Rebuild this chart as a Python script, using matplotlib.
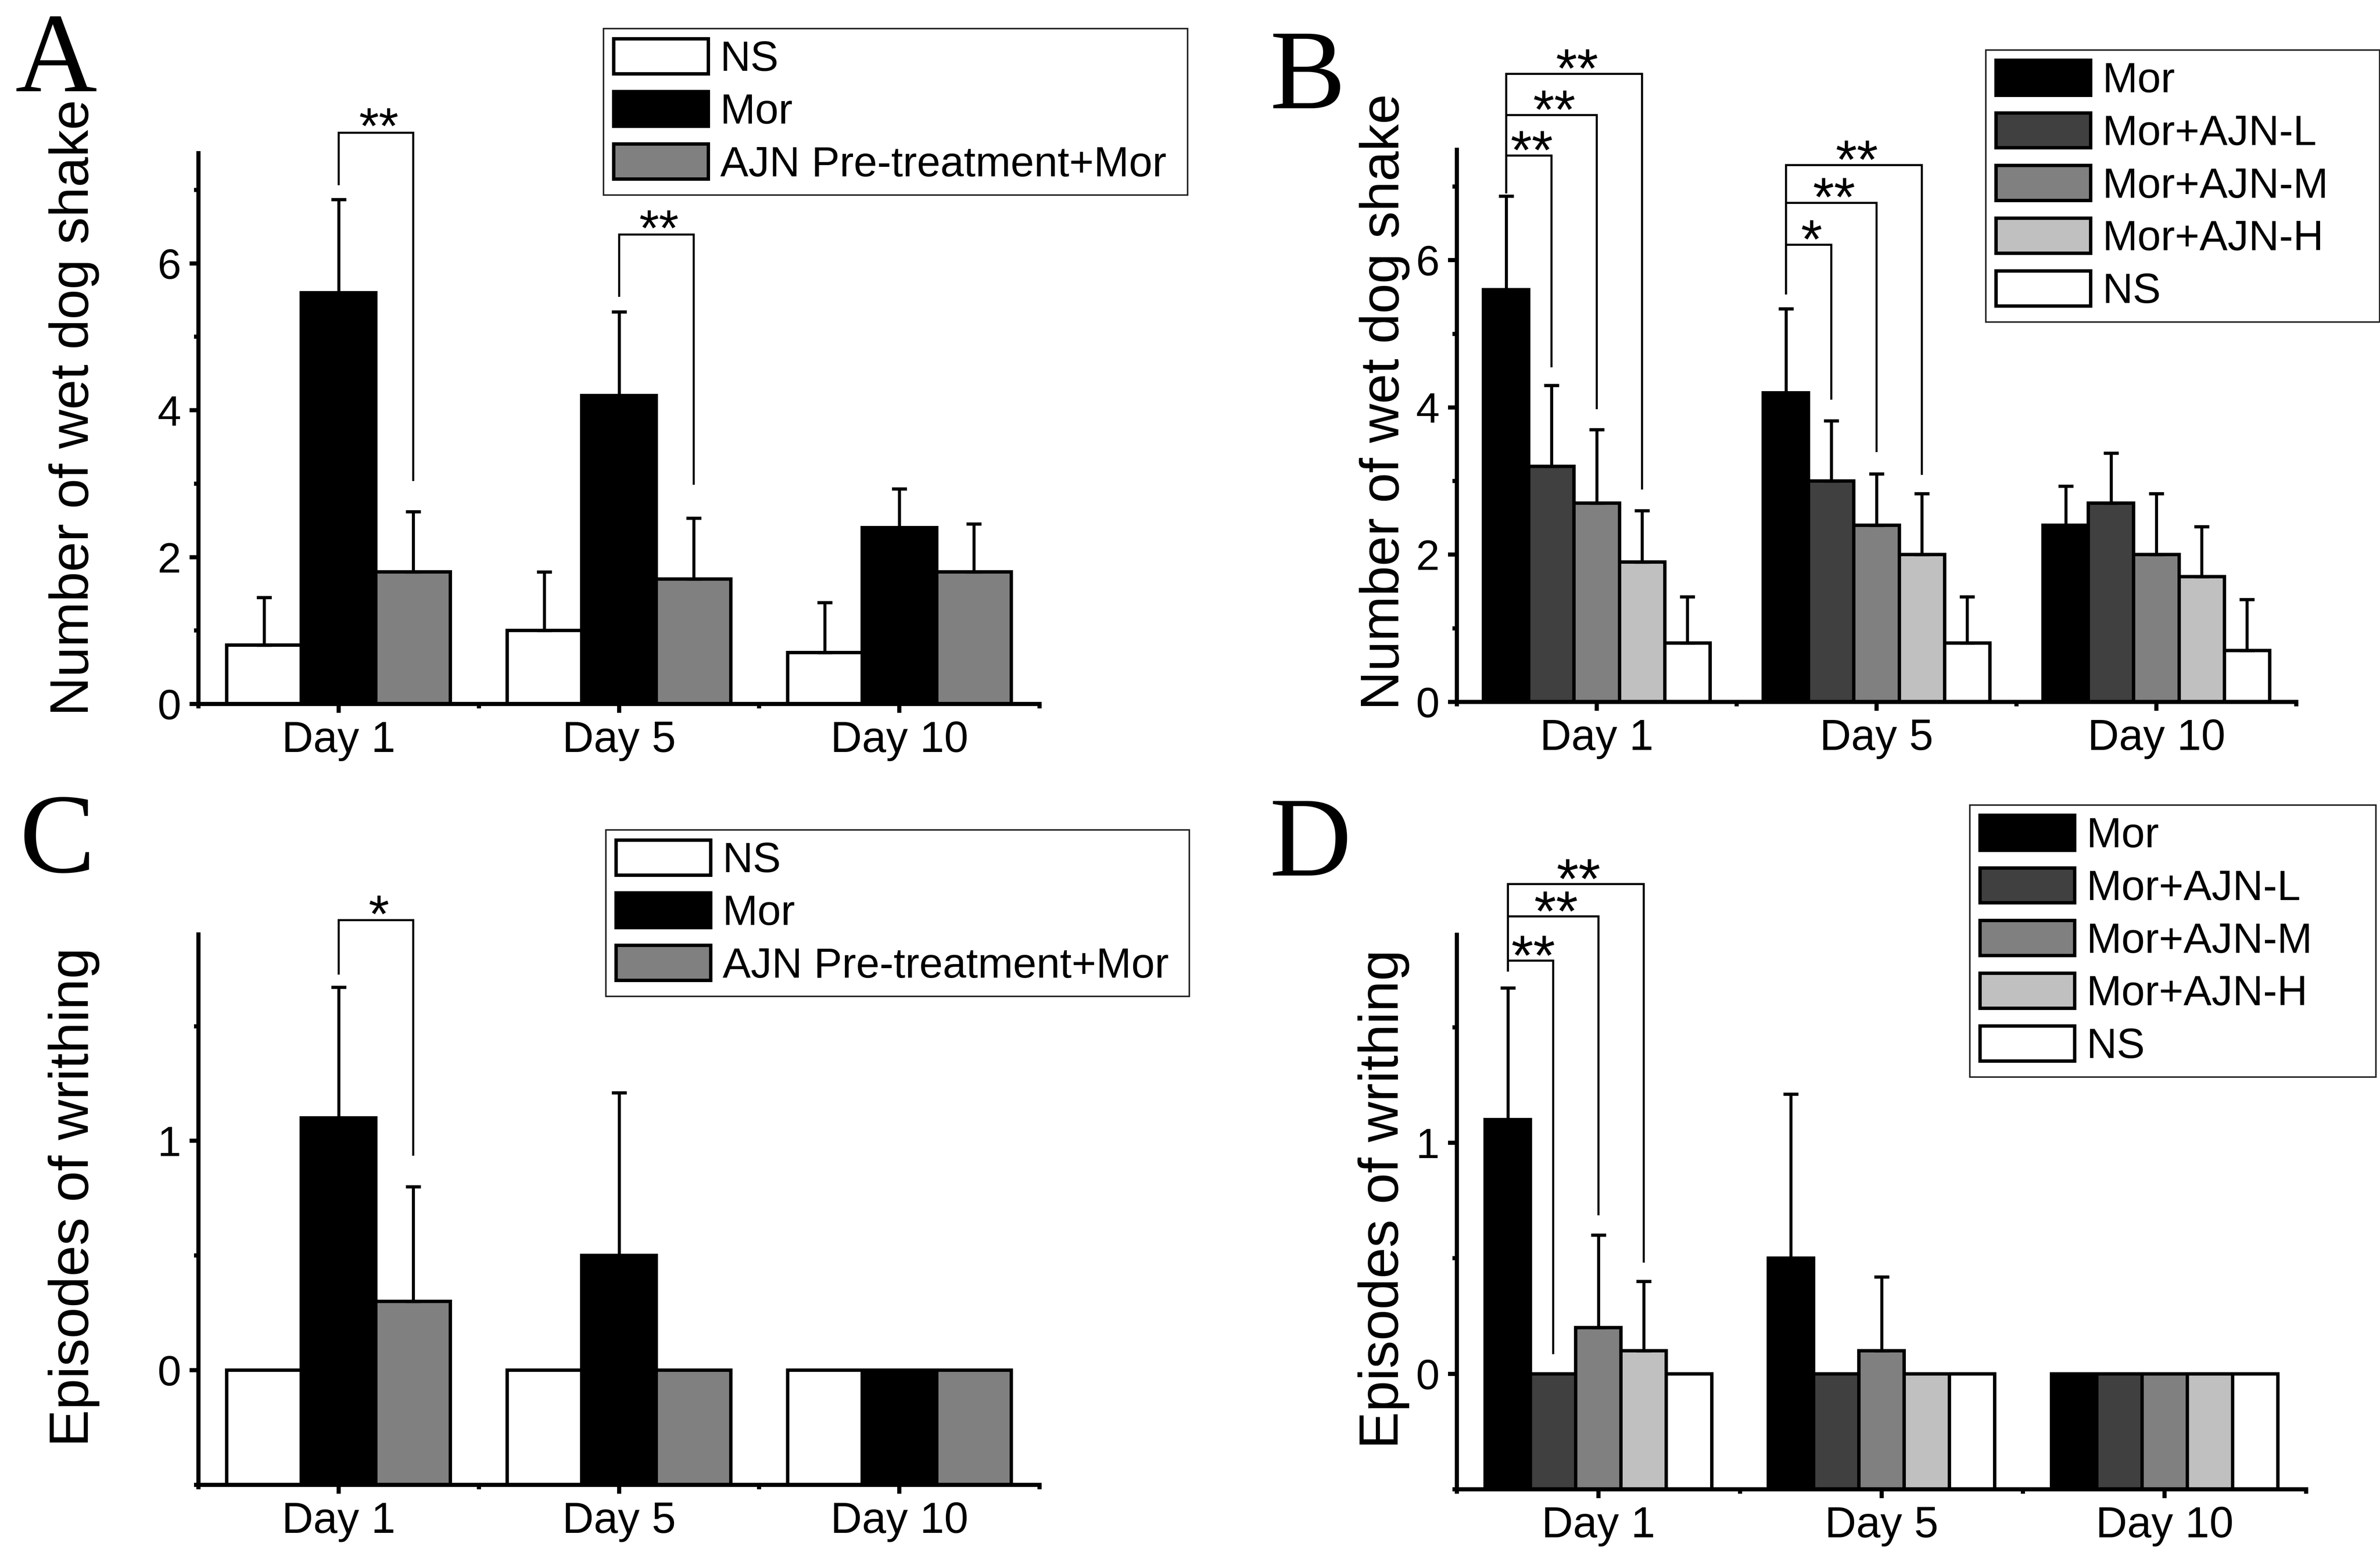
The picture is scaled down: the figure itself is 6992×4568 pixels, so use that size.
import matplotlib
matplotlib.use('Agg')
import matplotlib.pyplot as plt
import numpy as np
from matplotlib.ticker import FixedLocator

plt.rcParams['font.family'] = ['Liberation Sans', 'DejaVu Sans']

days = ['Day 1', 'Day 5', 'Day 10']

# ---------------- Panel A: wet dog shake (pre-treatment) ----------------
a_labels = ['NS', 'Mor', 'AJN Pre-treatment+Mor']
a_ns = [0.8, 1.0, 0.7]
a_ns_err = [0.65, 0.8, 0.68]
a_mor = [5.6, 4.2, 2.4]
a_mor_err = [1.27, 1.14, 0.53]
a_ajn = [1.8, 1.7, 1.8]
a_ajn_err = [0.82, 0.83, 0.65]

# ---------------- Panel B: wet dog shake (doses) ----------------
b_labels = ['Mor', 'Mor+AJN-L', 'Mor+AJN-M', 'Mor+AJN-H', 'NS']
b_mor = [5.6, 4.2, 2.4]
b_mor_err = [1.27, 1.14, 0.53]
b_l = [3.2, 3.0, 2.7]
b_l_err = [1.1, 0.82, 0.68]
b_m = [2.7, 2.4, 2.0]
b_m_err = [1.0, 0.7, 0.83]
b_h = [1.9, 2.0, 1.7]
b_h_err = [0.7, 0.83, 0.68]
b_ns = [0.8, 0.8, 0.7]
b_ns_err = [0.63, 0.63, 0.69]

# ---------------- Panel C: writhing (pre-treatment) ----------------
c_labels = ['NS', 'Mor', 'AJN Pre-treatment+Mor']
c_ns = [0.0, 0.0, 0.0]
c_ns_err = [0.0, 0.0, 0.0]
c_mor = [1.1, 0.5, 0.0]
c_mor_err = [0.57, 0.71, 0.0]
c_ajn = [0.3, 0.0, 0.0]
c_ajn_err = [0.5, 0.0, 0.0]

# ---------------- Panel D: writhing (doses) ----------------
d_labels = ['Mor', 'Mor+AJN-L', 'Mor+AJN-M', 'Mor+AJN-H', 'NS']
d_mor = [1.1, 0.5, 0.0]
d_mor_err = [0.57, 0.71, 0.0]
d_l = [0.0, 0.0, 0.0]
d_l_err = [0.0, 0.0, 0.0]
d_m = [0.2, 0.1, 0.0]
d_m_err = [0.4, 0.32, 0.0]
d_h = [0.1, 0.0, 0.0]
d_h_err = [0.3, 0.0, 0.0]
d_ns = [0.0, 0.0, 0.0]
d_ns_err = [0.0, 0.0, 0.0]

# significance brackets: (day position, series from, series to, label)
a_sig = [(1, 1, 2, '**'), (2, 1, 2, '**')]
b_sig = [(1, 0, 1, '**'), (1, 0, 2, '**'), (1, 0, 3, '**'),
         (2, 0, 1, '*'), (2, 0, 2, '**'), (2, 0, 3, '**')]
c_sig = [(1, 1, 2, '*')]
d_sig = [(1, 0, 1, '**'), (1, 0, 2, '**'), (1, 0, 3, '**')]

# bracket geometry (top, left foot, right foot) in data units
a_sig_geo = [(7.78, 7.08, 3.05), (6.39, 5.56, 3.0)]
b_sig_geo = [(7.42, 6.92, 4.56), (7.97, 6.92, 3.99), (8.53, 6.92, 2.9),
             (6.21, 5.55, 4.12), (6.78, 5.55, 3.41), (7.29, 5.55, 3.1)]
c_sig_geo = [(1.963, 1.73, 0.94)]
d_sig_geo = [(1.788, 1.745, 0.09), (1.98, 1.745, 0.69), (2.12, 1.745, 0.486)]

W, H = 6992, 4568
DPI = 400
fig = plt.figure(figsize=(W / DPI, H / DPI), dpi=DPI)


def px_axes(left, right, top, bottom):
    return fig.add_axes([left / W, (H - bottom) / H, (right - left) / W, (bottom - top) / H])


def draw_panel(ax, series, errs, colors, labels, width, base, ylim,
               yticks, yminor, sigs, geos, star_size, ylabel, ylab_size, ylab_pos, leg_box):
    x = np.arange(1, len(days) + 1)
    n = len(series)
    offs = [(i - (n - 1) / 2) * width for i in range(n)]
    for i in range(n):
        vals = np.array(series[i], dtype=float)
        ax.bar(x + offs[i], vals - base, width, bottom=base, color=colors[i],
               edgecolor='black', linewidth=1.8, label=labels[i], zorder=2)
        e = np.array(errs[i], dtype=float)
        m = e > 0
        if m.any():
            ax.errorbar((x + offs[i])[m], vals[m], yerr=[np.zeros(m.sum()), e[m]],
                        fmt='none', ecolor='black', elinewidth=1.6, capsize=4,
                        capthick=1.7, zorder=3)
    star_off = -(0.58 * star_size - 10.0)
    for (d, i0, i1, lab), (top, yl, yr) in zip(sigs, geos):
        x0 = d + offs[i0]
        x1 = d + offs[i1]
        ax.plot([x0, x0, x1, x1], [yl, top, top, yr], color='black', lw=1.1,
                clip_on=False, zorder=4, solid_joinstyle='miter')
        ax.annotate(lab, xy=((x0 + x1) / 2, top), xytext=(1.5, star_off),
                    textcoords='offset points', ha='center', va='baseline',
                    fontsize=star_size, annotation_clip=False)
    ax.set_xlim(0.5, len(days) + 0.5)
    ax.set_ylim(*ylim)
    ax.set_xticks(x)
    ax.set_xticklabels(days)
    ax.xaxis.set_minor_locator(FixedLocator(np.arange(0.5, len(days) + 1, 1.0)))
    ax.set_yticks(yticks)
    ax.set_yticklabels([str(t) for t in yticks])
    ax.yaxis.set_minor_locator(FixedLocator(yminor))
    for s in ['top', 'right']:
        ax.spines[s].set_visible(False)
    for s in ['left', 'bottom']:
        ax.spines[s].set_linewidth(2.2)
    ax.tick_params(which='major', direction='out', length=4.7, width=2.2)
    ax.tick_params(which='minor', direction='out', length=2.4, width=2.2)
    ax.tick_params(axis='x', which='major', labelsize=23, pad=4)
    ax.tick_params(axis='y', which='major', labelsize=22.5, pad=4.5)
    ax.text(ylab_pos[0], ylab_pos[1], ylabel, transform=ax.transAxes, rotation=90,
            ha='center', va='center', fontsize=ylab_size)
    leg = ax.legend(loc='upper left', bbox_to_anchor=(leg_box[0], leg_box[1], leg_box[2], 0),
                    bbox_transform=fig.transFigure, mode='expand', borderaxespad=0,
                    fontsize=22.3, handlelength=2.25, handleheight=0.9, handletextpad=0.28,
                    borderpad=0.24, labelspacing=0.28, fancybox=False, framealpha=1,
                    edgecolor='#222222')
    leg.get_frame().set_linewidth(0.8)


ax_a = px_axes(583, 3054, 450, 2068)
draw_panel(ax_a, [a_ns, a_mor, a_ajn], [a_ns_err, a_mor_err, a_ajn_err],
           ['white', 'black', '#808080'], a_labels, 0.266, 0.0, (0, 7.5),
           [0, 2, 4, 6], [1, 3, 5, 7], a_sig, a_sig_geo, 27,
           'Number of wet dog shake', 28.6, (-0.148, 0.538),
           (1773 / W, (H - 84) / H, 1716 / W))

ax_b = px_axes(4280, 6746, 440, 2062)
draw_panel(ax_b, [b_mor, b_l, b_m, b_h, b_ns],
           [b_mor_err, b_l_err, b_m_err, b_h_err, b_ns_err],
           ['black', '#404040', '#808080', '#c0c0c0', 'white'], b_labels, 0.162, 0.0,
           (0, 7.5), [0, 2, 4, 6], [1, 3, 5, 7], b_sig, b_sig_geo, 29,
           'Number of wet dog shake', 28.6, (-0.086, 0.543),
           (5834 / W, (H - 147) / H, 1157 / W))

ax_c = px_axes(583, 3054, 2745, 4362)
draw_panel(ax_c, [c_ns, c_mor, c_ajn], [c_ns_err, c_mor_err, c_ajn_err],
           ['white', 'black', '#808080'], c_labels, 0.266, -0.5, (-0.5, 1.9),
           [0, 1], [-0.5, 0.5, 1.5], c_sig, c_sig_geo, 28,
           'Episodes of writhing', 29.5, (-0.148, 0.523),
           (1780 / W, (H - 2438) / H, 1714 / W))

ax_d = px_axes(4280, 6775, 2746, 4375)
draw_panel(ax_d, [d_mor, d_l, d_m, d_h, d_ns],
           [d_mor_err, d_l_err, d_m_err, d_h_err, d_ns_err],
           ['black', '#404040', '#808080', '#c0c0c0', 'white'], d_labels, 0.16, -0.5,
           (-0.5, 1.9), [0, 1], [-0.5, 0.5, 1.5], d_sig, d_sig_geo, 30,
           'Episodes of writhing', 29.5, (-0.086, 0.523),
           (5787 / W, (H - 2365) / H, 1193 / W))

for letter, xpx, ypx in [('A', 45, 268), ('B', 3730, 318), ('C', 57, 2562), ('D', 3729, 2572)]:
    fig.text(xpx / W, (H - ypx) / H, letter, family=['Liberation Serif', 'DejaVu Serif'],
             fontsize=60, ha='left', va='baseline')

fig.savefig('out.png', dpi=DPI)
